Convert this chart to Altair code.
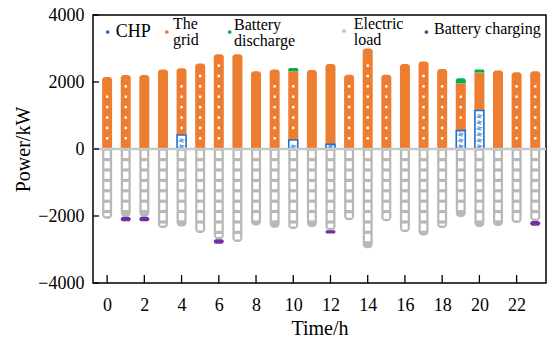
import altair as alt
import pandas as pd

# ---------------- data ----------------
hours = list(range(24))
chp = [0, 0, 0, 0, 420, 0, 0, 0, 0, 0, 270, 0, 140, 0, 0, 0, 0, 0, 0, 550, 1150, 0, 0, 0]
grid = [2150, 2210, 2210, 2370, 1990, 2550, 2830, 2830, 2320, 2370, 2050, 2360,
        2400, 2220, 3000, 2220, 2540, 2610, 2390, 1410, 1130, 2340, 2290, 2320]
discharge = [0, 0, 0, 0, 0, 0, 0, 0, 0, 0, 100, 0, 0, 0, 0, 0, 0, 0, 0, 150, 90, 0, 0, 0]
load = [2080, 2020, 2020, 2360, 2310, 2505, 2695, 2775, 2280, 2350, 2390, 2330,
        2427, 2130, 2960, 2160, 2480, 2580, 2360, 2030, 2330, 2300, 2210, 2150]
charging = [0, 140, 140, 0, 0, 0, 130, 0, 0, 0, 0, 0, 95, 0, 0, 0, 0, 0, 0, 0, 0, 0, 0, 140]

x_ticks = list(range(0, 23, 2))
y_ticks = [-4000, -2000, 0, 2000, 4000]

legend_labels = [["CHP"], ["The", "grid"], ["Battery", "discharge"], ["Electric", "load"], ["Battery charging"]]

# ---------------- style ----------------
ORANGE = "#ED7D31"
BLUE = "#1F6FD0"
GREEN = "#00B050"
GRAY = "#B8B8B8"
PURPLE = "#7030A0"
FONT = "Liberation Serif"
W, H = 453, 268
dotted = [0, 1, 4, 5, 6, 9, 10, 13, 14, 15, 17, 18, 19, 22, 23]

xs = alt.Scale(domain=[-0.49, 23.31], nice=False, zero=False)
ys = alt.Scale(domain=[-4000, 4000], nice=False, zero=False)

x_axis = alt.Axis(values=x_ticks, ticks=False, domain=False, grid=False,
                  labelFont=FONT, labelFontSize=18, labelColor="black",
                  labelPadding=13, titleFont=FONT, titleFontSize=20,
                  titleFontWeight="normal", titleColor="black", titlePadding=4)
y_axis = alt.Axis(values=y_ticks, format="d", ticks=False, domain=False, grid=False,
                  labelFont=FONT, labelFontSize=18, labelColor="black",
                  labelPadding=9, titleFont=FONT, titleFontSize=20,
                  titleFontWeight="normal", titleColor="black", titlePadding=4)

rows = []
for h in hours:
    top = chp[h] + grid[h]
    rows.append(dict(hour=h, kind="chp", y0=0, y1=chp[h], capped=discharge[h] > 0))
    rows.append(dict(hour=h, kind="grid", y0=chp[h], y1=top, capped=discharge[h] > 0))
    rows.append(dict(hour=h, kind="dis", y0=top, y1=top + discharge[h], capped=False))
    rows.append(dict(hour=h, kind="load", y0=0, y1=-load[h], capped=charging[h] > 0))
    rows.append(dict(hour=h, kind="chg", y0=-load[h], y1=-load[h] - charging[h], capped=False))
seg = pd.DataFrame(rows)

# white dots pattern on grid bars
dots = []
for h in dotted:
    top = chp[h] + grid[h]
    k = 0
    while True:
        v = 320 + 310 * k
        if v > top - 330:
            break
        if v > chp[h] + 150:
            dots.append(dict(hour=h, v=v))
        k += 1
dots = pd.DataFrame(dots)

# white cells in electric load bars (ladder pattern)
cells = []
for h in hours:
    k = 0
    while True:
        a = 310 * k + 55
        b = min(310 * k + 270, load[h] - 75)
        if b - a < 60:
            break
        cells.append(dict(hour=h, a=-a, b=-b))
        k += 1
cells = pd.DataFrame(cells)

# zigzag marks in CHP bars
zig = []
for h in hours:
    if chp[h] > 0:
        v = 80
        while v < chp[h] - 50:
            zig.append(dict(hour=h, v=v))
            v += 180
zig = pd.DataFrame(zig)


def X(f):
    return alt.X(f, type="quantitative", scale=xs, axis=x_axis, title="Time/h")


def Y(f):
    return alt.Y(f, type="quantitative", scale=ys, axis=y_axis, title="Power/kW")


base = alt.Chart(seg)

grid_bars = base.transform_filter("datum.kind == 'grid' && !datum.capped").mark_bar(
    size=10, color=ORANGE, cornerRadiusTopLeft=3, cornerRadiusTopRight=3
).encode(x=X("hour"), y=Y("y0"), y2="y1:Q")

grid_bars_capped = base.transform_filter("datum.kind == 'grid' && datum.capped").mark_bar(
    size=10, color=ORANGE
).encode(x=X("hour"), y=Y("y0"), y2="y1:Q")

chp_bars = base.transform_filter("datum.kind == 'chp' && datum.y1 > 0").mark_bar(
    size=9, fill="white", stroke=BLUE, strokeWidth=1.6
).encode(x=X("hour"), y=Y("y0"), y2="y1:Q")

zig_marks = alt.Chart(zig).mark_point(
    shape="M-1,-0.8L1,-0.2L-1,0.4L1,1", stroke=BLUE, strokeWidth=1.2, size=14, filled=False
).encode(x=X("hour"), y=Y("v"))

dis_bars = base.transform_filter("datum.kind == 'dis' && datum.y1 > datum.y0").mark_bar(
    size=10, color=GREEN, cornerRadiusTopLeft=4, cornerRadiusTopRight=4
).encode(x=X("hour"), y=Y("y0"), y2="y1:Q")

load_bars = base.transform_filter("datum.kind == 'load'").mark_bar(
    size=10, color=GRAY, cornerRadiusBottomLeft=4, cornerRadiusBottomRight=4
).encode(x=X("hour"), y=Y("y0"), y2="y1:Q")

cell_bars = alt.Chart(cells).mark_bar(size=5.5, color="white").encode(
    x=X("hour"), y=Y("a"), y2="b:Q")

chg_bars = base.transform_filter("datum.kind == 'chg' && datum.y0 > datum.y1").mark_bar(
    size=10, color=PURPLE, cornerRadius=4
).encode(x=X("hour"), y=Y("y0"), y2="y1:Q")

dot_marks = alt.Chart(dots).mark_square(size=6, color="white", opacity=1).encode(
    x=X("hour"), y=Y("v"))

zero_line = alt.Chart(pd.DataFrame({"v": [0]})).mark_rule(color="#C8C8C8", strokeWidth=2.5).encode(
    y=Y("v"), x=alt.value(0), x2=alt.value(W))

xtick_marks = alt.Chart(pd.DataFrame({"t": x_ticks})).mark_rule(color="black", strokeWidth=1.3).encode(
    x=X("t"), y=alt.value(H), y2=alt.value(H - 8))

ytick_marks = alt.Chart(pd.DataFrame({"v": y_ticks})).mark_rule(color="black", strokeWidth=1.3).encode(
    y=Y("v"), x=alt.value(0), x2=alt.value(6))

# ---------------- legend (inside plot, top) ----------------
one = pd.DataFrame({"a": [0]})
leg_colors = [BLUE, ORANGE, GREEN, GRAY, PURPLE]
leg_dot_x = [14.7, 73.7, 136.7, 251, 333.4]
leg_dot_y = [17, 17, 17, 16, 17]
leg_txt_x = [22.7, 80, 141, 260.7, 341]
leg_line_y = [[17], [8.5, 24.5], [10, 26], [9, 25], [13.5]]
leg_size = [18, 16, 16, 16, 16]

legend_layers = []
for i in range(5):
    legend_layers.append(
        alt.Chart(one).mark_circle(size=14, opacity=1, color=leg_colors[i]).encode(
            x=alt.value(leg_dot_x[i]), y=alt.value(leg_dot_y[i]))
    )
    for j, line in enumerate(legend_labels[i]):
        legend_layers.append(
            alt.Chart(one).mark_text(align="left", baseline="middle", font=FONT,
                                     fontSize=leg_size[i], color="black").encode(
                x=alt.value(leg_txt_x[i]), y=alt.value(leg_line_y[i][j]),
                text=alt.value(line))
        )

chart = alt.layer(
    grid_bars, grid_bars_capped, chp_bars, zig_marks, dis_bars, load_bars, cell_bars, chg_bars,
    dot_marks, zero_line, xtick_marks, ytick_marks, *legend_layers
).properties(
    width=W, height=H,
    background="white",
    autosize=alt.AutoSizeParams(type="none"),
    padding={"left": 93, "top": 15, "right": 5, "bottom": 60},
).configure_view(
    stroke="black", strokeWidth=1.5
)

chart.save("out.html", embed_options={"renderer": "svg", "actions": False})
